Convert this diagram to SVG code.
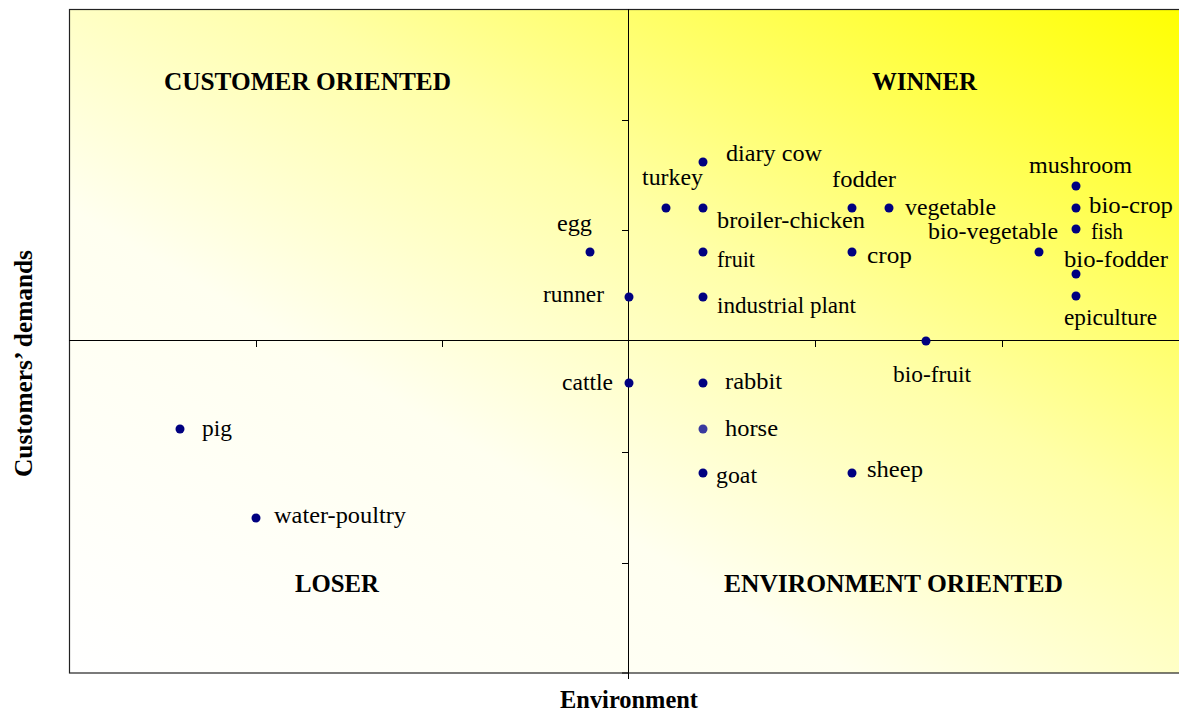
<svg xmlns="http://www.w3.org/2000/svg" width="1179" height="713" viewBox="0 0 1179 713">
<style>
.lbl{font-family:"Liberation Serif","Times New Roman",serif;font-size:23.5px;fill:#000}
.q{font-family:"Liberation Serif","Times New Roman",serif;font-size:26px;font-weight:bold;fill:#000}
.ax{font-family:"Liberation Serif","Times New Roman",serif;font-size:24.5px;font-weight:bold;fill:#000}
.dot{fill:#000080}
.axis{stroke:#000;stroke-width:1;fill:none}
</style>
<defs>
<linearGradient id="bg" x1="0" y1="1" x2="1" y2="0">
<stop offset="0" stop-color="#ffffff"/>
<stop offset="0.35" stop-color="#fffff0"/>
<stop offset="0.6" stop-color="#ffffa8"/>
<stop offset="1" stop-color="#ffff00"/>
</linearGradient>
</defs>
<rect width="1179" height="713" fill="#fff"/>
<g id="plot">
<rect x="69.5" y="9.5" width="1120" height="663.5" fill="url(#bg)" stroke="#222" stroke-width="1.2"/>
</g>
<g id="axes">
<line class="axis" x1="628.5" y1="9" x2="628.5" y2="673"/>
<line class="axis" x1="69" y1="340.5" x2="1179" y2="340.5"/>
<path class="axis" d="M622 120.5H628M622 230.5H628M622 452.5H628M622 563.5H628M622 673H628M256.5 340V347M442.5 340V347M815.5 340V347M1002.5 340V347M628.5 673V679"/>
</g>
<g id="quadrant-labels">
<text class="q" x="164" y="90" textLength="287" lengthAdjust="spacingAndGlyphs">CUSTOMER ORIENTED</text>
<text class="q" x="872" y="90" textLength="105" lengthAdjust="spacingAndGlyphs">WINNER</text>
<text class="q" x="295" y="592" textLength="84" lengthAdjust="spacingAndGlyphs">LOSER</text>
<text class="q" x="724" y="592" textLength="339" lengthAdjust="spacingAndGlyphs">ENVIRONMENT ORIENTED</text>
</g>
<g id="axis-titles">
<text class="ax" x="560" y="708" textLength="138" lengthAdjust="spacingAndGlyphs">Environment</text>
<text class="ax" transform="translate(32 477) rotate(-90)" x="0" y="0" textLength="227" lengthAdjust="spacingAndGlyphs">Customers’ demands</text>
</g>
<g id="points">
<g id="diary-cow"><circle class="dot" cx="703" cy="162" r="4.5"/><text class="lbl" x="726" y="161" textLength="96" lengthAdjust="spacingAndGlyphs">diary cow</text></g>
<g id="turkey"><circle class="dot" cx="666" cy="208" r="4.5"/><text class="lbl" x="642" y="185" textLength="61" lengthAdjust="spacingAndGlyphs">turkey</text></g>
<g id="broiler-chicken"><circle class="dot" cx="703" cy="208" r="4.5"/><text class="lbl" x="717" y="228" textLength="148" lengthAdjust="spacingAndGlyphs">broiler-chicken</text></g>
<g id="egg"><circle class="dot" cx="590" cy="252" r="4.5"/><text class="lbl" x="557" y="231" textLength="35" lengthAdjust="spacingAndGlyphs">egg</text></g>
<g id="fruit"><circle class="dot" cx="703" cy="252" r="4.5"/><text class="lbl" x="717" y="267" textLength="38" lengthAdjust="spacingAndGlyphs">fruit</text></g>
<g id="runner"><circle class="dot" cx="629" cy="297" r="4.5"/><text class="lbl" x="543" y="302" textLength="61" lengthAdjust="spacingAndGlyphs">runner</text></g>
<g id="industrial-plant"><circle class="dot" cx="703" cy="297" r="4.5"/><text class="lbl" x="717" y="313" textLength="139" lengthAdjust="spacingAndGlyphs">industrial plant</text></g>
<g id="fodder"><circle class="dot" cx="852" cy="208" r="4.5"/><text class="lbl" x="832" y="187" textLength="64" lengthAdjust="spacingAndGlyphs">fodder</text></g>
<g id="crop"><circle class="dot" cx="852" cy="252" r="4.5"/><text class="lbl" x="867" y="263" textLength="45" lengthAdjust="spacingAndGlyphs">crop</text></g>
<g id="vegetable"><circle class="dot" cx="889" cy="208" r="4.5"/><text class="lbl" x="905" y="215" textLength="91" lengthAdjust="spacingAndGlyphs">vegetable</text></g>
<g id="bio-vegetable"><circle class="dot" cx="1039" cy="252" r="4.5"/><text class="lbl" x="928" y="239" textLength="130" lengthAdjust="spacingAndGlyphs">bio-vegetable</text></g>
<g id="mushroom"><circle class="dot" cx="1076" cy="186" r="4.5"/><text class="lbl" x="1029" y="173" textLength="103" lengthAdjust="spacingAndGlyphs">mushroom</text></g>
<g id="bio-crop"><circle class="dot" cx="1076" cy="208" r="4.5"/><text class="lbl" x="1089" y="213" textLength="84" lengthAdjust="spacingAndGlyphs">bio-crop</text></g>
<g id="fish"><circle class="dot" cx="1076" cy="229" r="4.5"/><text class="lbl" x="1091" y="239" textLength="32" lengthAdjust="spacingAndGlyphs">fish</text></g>
<g id="bio-fodder"><circle class="dot" cx="1076" cy="274" r="4.5"/><text class="lbl" x="1064" y="267" textLength="104" lengthAdjust="spacingAndGlyphs">bio-fodder</text></g>
<g id="epiculture"><circle class="dot" cx="1076" cy="296" r="4.5"/><text class="lbl" x="1064" y="325" textLength="93" lengthAdjust="spacingAndGlyphs">epiculture</text></g>
<g id="bio-fruit"><circle class="dot" cx="926" cy="341" r="4.5"/><text class="lbl" x="893" y="382" textLength="78" lengthAdjust="spacingAndGlyphs">bio-fruit</text></g>
<g id="cattle"><circle class="dot" cx="629" cy="383" r="4.5"/><text class="lbl" x="562" y="390" textLength="51" lengthAdjust="spacingAndGlyphs">cattle</text></g>
<g id="rabbit"><circle class="dot" cx="703" cy="383" r="4.5"/><text class="lbl" x="725" y="389" textLength="57" lengthAdjust="spacingAndGlyphs">rabbit</text></g>
<g id="horse"><circle cx="703" cy="429" r="4.5" fill="#3a3a9e"/><text class="lbl" x="725" y="436" textLength="53" lengthAdjust="spacingAndGlyphs">horse</text></g>
<g id="goat"><circle class="dot" cx="703" cy="473" r="4.5"/><text class="lbl" x="716" y="483" textLength="41" lengthAdjust="spacingAndGlyphs">goat</text></g>
<g id="sheep"><circle class="dot" cx="852" cy="473" r="4.5"/><text class="lbl" x="867" y="477" textLength="56" lengthAdjust="spacingAndGlyphs">sheep</text></g>
<g id="pig"><circle class="dot" cx="180" cy="429" r="4.5"/><text class="lbl" x="202" y="436" textLength="30" lengthAdjust="spacingAndGlyphs">pig</text></g>
<g id="water-poultry"><circle class="dot" cx="256" cy="518" r="4.5"/><text class="lbl" x="274" y="523" textLength="132" lengthAdjust="spacingAndGlyphs">water-poultry</text></g>
</g>
</svg>
